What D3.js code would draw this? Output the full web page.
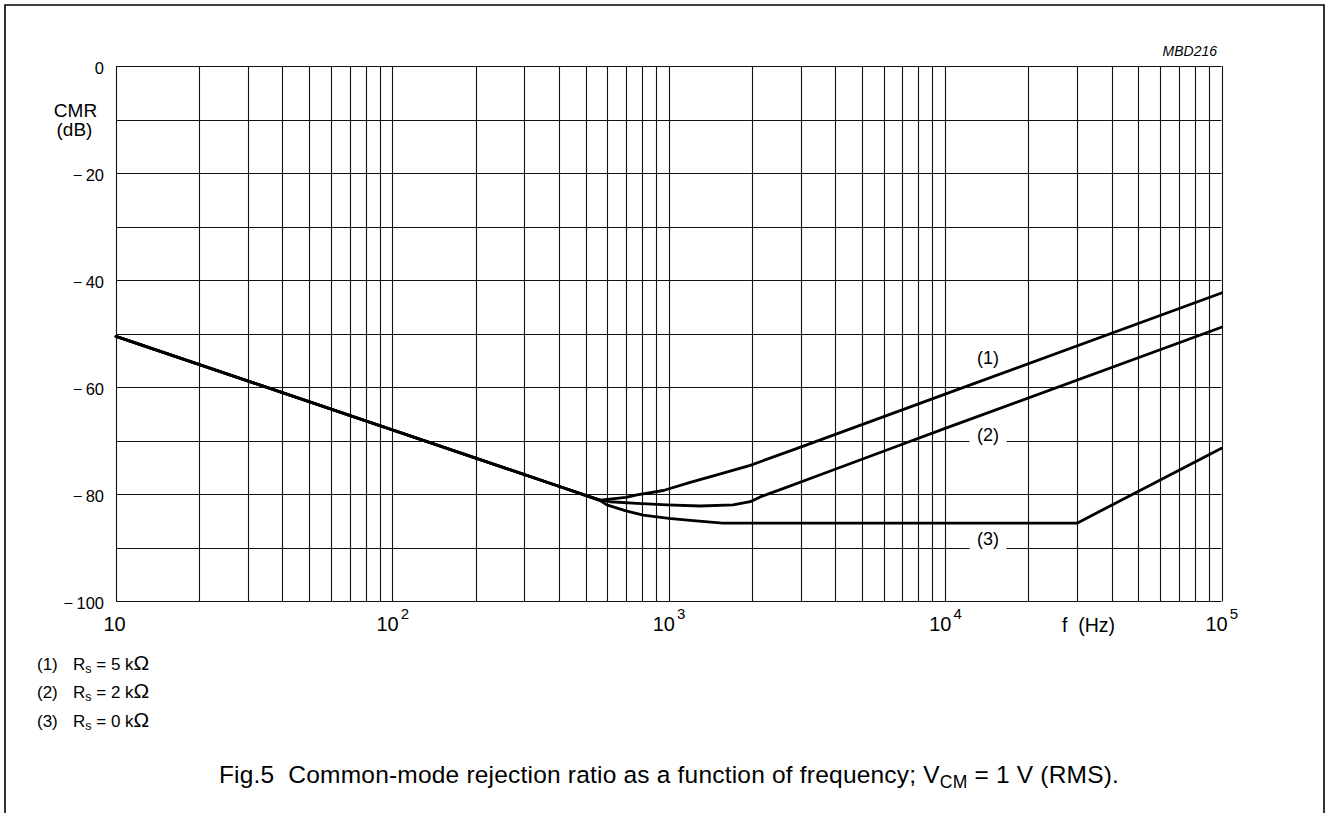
<!DOCTYPE html>
<html><head><meta charset="utf-8">
<script src="https://cdn.jsdelivr.net/npm/d3@7"></script>
<style>body{margin:0;background:#fff}svg{display:block;font-family:"Liberation Sans",Arial,sans-serif}</style>
</head><body><svg id="c" width="1327" height="813"></svg>
<script>
const yTicks = [0, -20, -40, -60, -80, -100];
const yTickLabels = ["0", "\u2212\u200920", "\u2212\u200940", "\u2212\u200960", "\u2212\u200980", "\u2212\u2009100"];
const xDecades = [10, 100, 1000, 10000, 100000];
const xTickExp = ["", "2", "3", "4", "5"];

const s1Freq = [10, 400, 500, 565, 700, 767, 957, 1196, 1494, 1972, 3000, 10000, 100000];
const s1Val  = [-50.5, -78.5, -80.2, -81.1, -80.6, -80.1, -79.3, -77.8, -76.4, -74.6, -71.2, -61.3, -42.4];
const s2Freq = [10, 400, 500, 565, 614, 767, 985, 1300, 1710, 1972, 2143, 2605, 3437, 6886, 10000, 100000];
const s2Val  = [-50.5, -78.5, -80.2, -81.1, -81.4, -81.7, -82.0, -82.2, -82.0, -81.4, -80.5, -78.9, -76.6, -70.8, -67.7, -48.8];
const s3Freq = [10, 400, 500, 565, 597, 700, 808, 1000, 1196, 1566, 3000, 10000, 30000, 100000];
const s3Val  = [-50.5, -78.5, -80.2, -81.2, -82.0, -83.1, -83.9, -84.5, -84.9, -85.4, -85.4, -85.4, -85.4, -71.4];
const seriesLabels = ["(1)", "(2)", "(3)"];
const labelFreq = [14300, 14300, 14300];
const labelVal = [-55.7, -70.0, -89.4];
const legendNums = ["(1)", "(2)", "(3)"];
const legendRs = ["5", "2", "0"];

const svg = d3.select("#c");
const x = d3.scaleLog().domain([10, 100000]).range([116, 1221.5]);
const y = d3.scaleLinear().domain([-100, 0]).range([601.3, 66]);

// frame
svg.append("path").attr("d", "M5,813 V5 H1324 V813").attr("fill", "none").attr("stroke", "#000").attr("stroke-width", 1.6);

// grid
const g = svg.append("g");
const vLines = [];
for (let d = 10; d < 100000; d *= 10) for (let k = 1; k <= 9; k++) vLines.push(d * k);
vLines.push(100000);
g.selectAll(".v").data(vLines).join("line")
  .attr("x1", d => Math.round(x(d)) + 0.5).attr("x2", d => Math.round(x(d)) + 0.5)
  .attr("y1", y(0)).attr("y2", y(-100)).attr("stroke", "#111").attr("stroke-width", 1.1);
g.selectAll(".h").data(d3.range(-100, 1, 10)).join("line")
  .attr("y1", d => Math.round(y(d)) + 0.5).attr("y2", d => Math.round(y(d)) + 0.5)
  .attr("x1", x(10)).attr("x2", x(100000)).attr("stroke", "#111").attr("stroke-width", 1.1);

// y tick labels
svg.selectAll(".yl").data(yTicks).join("text")
  .attr("x", 104).attr("y", d => y(d) + 7.5).attr("text-anchor", "end")
  .attr("font-size", 16.5).text((d, i) => yTickLabels[i]);

// x tick labels
xDecades.forEach((d, i) => {
  const t = svg.append("text").attr("font-size", 20).attr("y", 630.5);
  if (i === 0) { t.attr("x", x(d) - 1.5).attr("text-anchor", "middle").text("10"); }
  else {
    t.attr("x", x(d) - 16).text("10");
    t.append("tspan").attr("dx", 2).attr("dy", -12).attr("font-size", 15).text(xTickExp[i]);
  }
});
svg.append("text").attr("x", 1062).attr("y", 632).attr("font-size", 19.5).text("f\u00A0 (Hz)");

// y axis title
svg.append("text").attr("x", 75.5).attr("y", 117).attr("text-anchor", "middle").attr("font-size", 19).text("CMR");
svg.append("text").attr("x", 74.5).attr("y", 136).attr("text-anchor", "middle").attr("font-size", 19).text("(dB)");

// MBD
svg.append("text").attr("x", 1217).attr("y", 56).attr("text-anchor", "end").attr("font-size", 14)
  .attr("font-style", "italic").text("MBD216");

// curves
const line = d3.line().x(d => x(d[0])).y(d => y(d[1])).curve(d3.curveLinear);
[[s1Freq, s1Val], [s2Freq, s2Val], [s3Freq, s3Val]].forEach(([f, v]) => {
  svg.append("path").attr("d", line(f.map((ff, i) => [ff, v[i]])))
    .attr("fill", "none").attr("stroke", "#000").attr("stroke-width", 2.8)
    .attr("stroke-linejoin", "round").attr("stroke-linecap", "round");
});

// curve labels
seriesLabels.forEach((s, i) => {
  const cx = x(labelFreq[i]), cy = y(labelVal[i]);
  if (i > 0) svg.append("rect").attr("x", cx - 18.5).attr("y", cy - 13).attr("width", 37).attr("height", 18).attr("fill", "#fff");
  svg.append("text").attr("x", cx).attr("y", cy).attr("text-anchor", "middle").attr("font-size", 18).text(s);
});

// legend
legendNums.forEach((n, i) => {
  const by = 669.5 + i * 28.5;
  svg.append("text").attr("x", 37).attr("y", by).attr("font-size", 17).text(n);
  const t = svg.append("text").attr("x", 73).attr("y", by).attr("font-size", 17).text("R");
  t.append("tspan").attr("dy", 3).attr("font-size", 12.5).text("s");
  t.append("tspan").attr("dy", -3).text(" = " + legendRs[i] + " k");
  t.append("tspan").attr("font-size", 21).text("\u03A9");
});

// title
const tt = svg.append("text").attr("x", 669).attr("y", 783).attr("text-anchor", "middle").attr("font-size", 24.5)
  .attr("letter-spacing", 0.2)
  .text("Fig.5\u00A0 Common-mode rejection ratio as a function of frequency; V");
tt.append("tspan").attr("dy", 5).attr("font-size", 17.5).text("CM");
tt.append("tspan").attr("dy", -5).text(" = 1 V (RMS).");
</script></body></html>
